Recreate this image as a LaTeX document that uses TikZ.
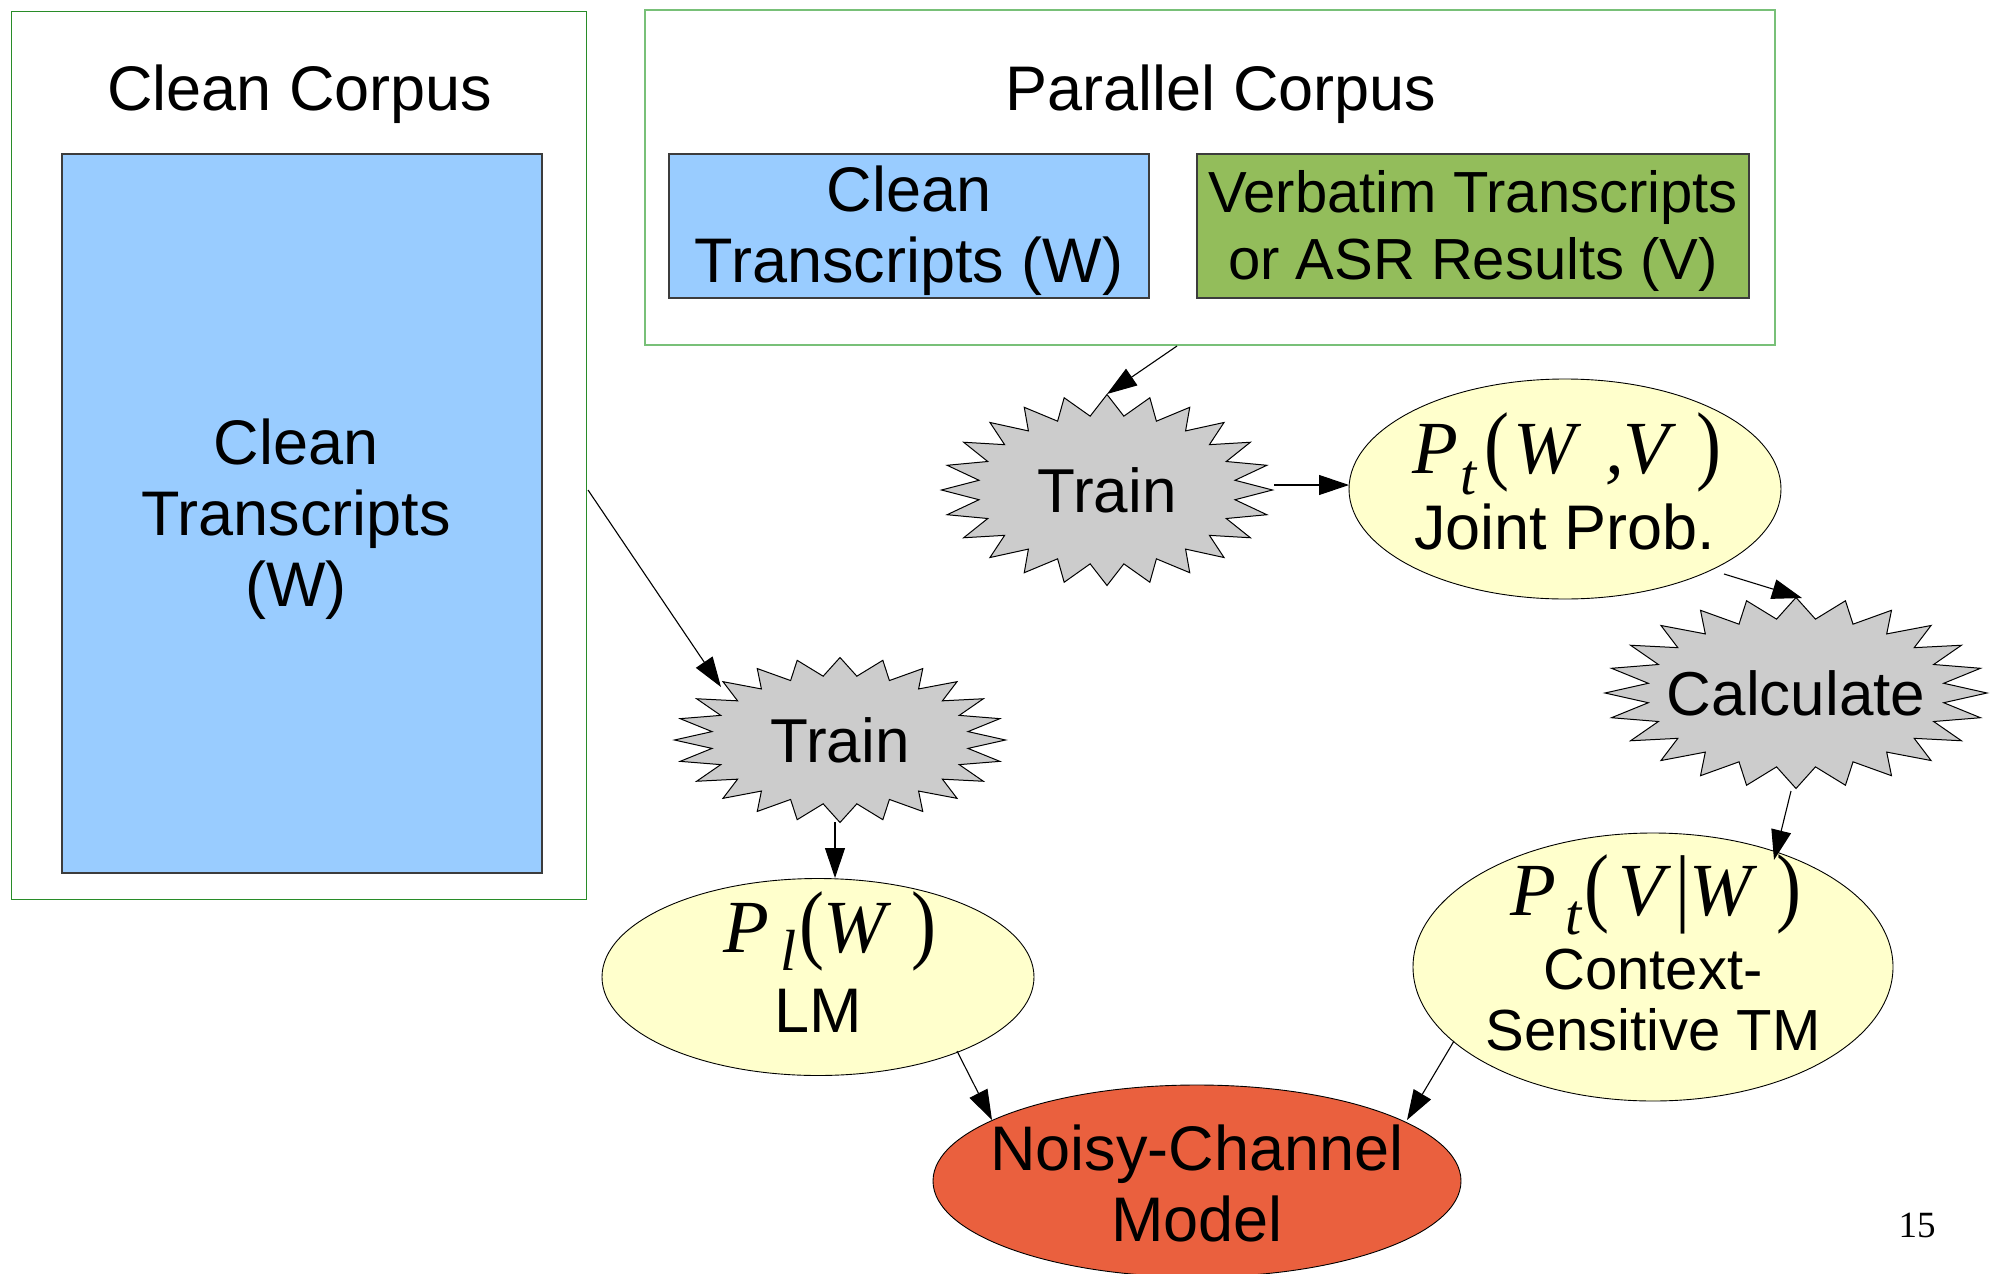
\documentclass[tikz,border=0pt]{standalone}
\usepackage{fontspec}
\setmainfont{Liberation Sans}
\newfontfamily\tmsfont{Liberation Serif}
\usetikzlibrary{shapes.geometric,arrows.meta}
\definecolor{boxblue}{RGB}{153,204,255}
\definecolor{boxgreen}{RGB}{147,189,91}
\definecolor{ellyellow}{RGB}{255,255,204}
\definecolor{noisyred}{RGB}{234,96,62}
\definecolor{stargray}{RGB}{204,204,204}
\definecolor{framegreen}{RGB}{120,192,120}
\definecolor{framedark}{RGB}{40,140,40}
\definecolor{edgegray}{RGB}{60,60,60}
% math-like glyphs in Times-style serif, placed at given offsets
\newcommand{\gl}[2]{\makebox[0pt][l]{\hspace*{#1pt}#2}}
\newcommand{\ti}[1]{{\tmsfont\itshape #1}}
\newcommand{\tp}[2][1.17]{{\tmsfont\scalebox{1}[#1]{#2}}}
\newcommand{\sub}[2]{\raisebox{-#1pt}{\fontsize{58}{58}\selectfont\ti{#2}}}
% starburst outline around a named (invisible) node
\newcommand{\burst}[3]{%
  \draw[starline] ([shift={(0:#2 and #3)}]#1.center)
    \foreach \k in {1,...,47}{ -- ([shift={(\k*7.5:{#2*(1-0.22*mod(\k,2))} and {#3*(1-0.22*mod(\k,2))})}]#1.center)} -- cycle;}
\begin{document}
\begin{tikzpicture}[x=1pt,y=-1pt,
  frame/.style={draw=framegreen,line width=2pt,fill=white,inner sep=0pt},
  databox/.style={draw=edgegray,line width=1.1pt,inner sep=0pt},
  anchorell/.style={ellipse,inner sep=0pt},
  starline/.style={fill=stargray,draw=black,line width=1pt,line join=miter},
  ellbox/.style={ellipse,draw=black,line width=0.9pt,inner sep=0pt},
  big/.style={font=\fontsize{63}{71}\selectfont,align=center,inner sep=0pt},
  mid/.style={font=\fontsize{58}{67}\selectfont,align=center,inner sep=0pt},
  mathlbl/.style={font=\fontsize{75}{75}\selectfont,inner sep=0pt,anchor=base west},
  arr/.style={line width=1.1pt,-{Triangle[length=30pt,width=20pt]}}
]
\useasboundingbox[fill=white] (0,0) rectangle (1995,1274);

% Clean corpus
\node[frame,draw=framedark,line width=1.3pt,minimum width=575pt,minimum height=888pt] (cc) at (299,455.5) {};
\node[big] (cctitle) at (300,94) {Clean Corpus};
\node[databox,fill=boxblue,minimum width=480pt,minimum height=719pt] (ccin) at (302,513.5) {};
\node[big] (ccintext) at (296,519) {Clean\\Transcripts\\(W)};

% Parallel corpus
\node[frame,minimum width=1130pt,minimum height=335pt] (pc) at (1210,177.5) {};
\node[big] (pctitle) at (1221,94) {Parallel Corpus};
\node[databox,fill=boxblue,minimum width=480pt,minimum height=144pt] (pcw) at (909,226) {};
\node[big] (pcwtext) at (909,231) {Clean\\Transcripts (W)};
\node[databox,fill=boxgreen,minimum width=552pt,minimum height=144pt] (pcv) at (1473,226) {};
\node[mid] (pcvtext) at (1473,231) {Verbatim Transcripts\\or ASR Results (V)};

% Stars
\node[anchorell,minimum width=331pt,minimum height=191pt] (train1) at (1107,490) {};
\burst{train1}{165.5}{95.5}
\node[font=\fontsize{62}{62}\selectfont,inner sep=0pt] (train1text) at (train1) {Train};
\node[anchorell,minimum width=331pt,minimum height=165pt] (train2) at (840,740) {};
\burst{train2}{165.5}{82.5}
\node[font=\fontsize{62}{62}\selectfont,inner sep=0pt] (train2text) at (train2) {Train};
\node[anchorell,minimum width=382pt,minimum height=191pt] (calc) at (1796,693) {};
\burst{calc}{191}{95.5}
\node[font=\fontsize{62}{62}\selectfont,inner sep=0pt] (calctext) at (calc) {Calculate};

% Ellipses
\node[ellbox,fill=ellyellow,minimum width=432pt,minimum height=220pt] (joint) at (1565,489) {};
\node[mathlbl] (jointm) at (1412,473) {\gl{0}{\ti{P}}\gl{48}{\sub{21}{t}}\gl{72}{\tp{(}}\gl{101}{\ti{W}}\gl{193}{\ti{,}}\gl{211}{\ti{V}}\gl{284}{\tp{)}}\hspace*{303pt}};
\node[big] (jointt) at (1565,527) {Joint Prob.};

\node[ellbox,fill=ellyellow,minimum width=432pt,minimum height=197pt] (lm) at (818,977) {};
\node[mathlbl] (lmm) at (723,952) {\gl{0}{\ti{P}}\gl{57}{\sub{18}{l}}\gl{76}{\tp{(}}\gl{100}{\ti{W}}\gl{188}{\tp{)}}\hspace*{207pt}};
\node[big] (lmt) at (818,1011) {LM};

\node[ellbox,fill=ellyellow,minimum width=480pt,minimum height=268pt] (ctx) at (1653,967) {};
\node[mathlbl] (ctxm) at (1510,915) {\gl{0}{\ti{P}}\gl{55}{\sub{19}{t}}\gl{74}{\tp{(}}\gl{108}{\ti{V}}\gl{165}{\tp[1.15]{|}}\gl{179}{\ti{W}}\gl{266}{\tp{)}}\hspace*{285pt}};
\node[font=\fontsize{58}{61}\selectfont,align=center,inner sep=0pt] (ctxt) at (1653,1000) {Context-\\Sensitive TM};

\node[ellbox,fill=noisyred,minimum width=528pt,minimum height=192pt] (noisy) at (1197,1181) {};
\node[big] (noisyt) at (1197,1183) {Noisy-Channel\\Model};

\node[font=\tmsfont\fontsize{37}{37}\selectfont,inner sep=0pt] (pagenum) at (1917,1225) {15};

% Connectors
\draw[arr] ([xshift=-33pt]pc.south) -- ([shift={(0,-96)}]train1.center);
\draw[arr] ([shift={(167,-5)}]train1.center) -- ([shift={(-216,-4)}]joint.center);
\draw[arr] ([shift={(159,85)}]joint.center) -- ([shift={(6,-95)}]calc.center);
\draw[arr] ([shift={(-5,98)}]calc.center) -- ([shift={(121,-107)}]ctx.center);
\draw[arr] ([shift={(289,34.5)}]cc.center) -- ([shift={(-119,-53)}]train2.center);
\draw[arr] ([shift={(-5,82)}]train2.center) -- ([shift={(17,-99)}]lm.center);
\draw[arr] ([shift={(139,74)}]lm.center) -- ([shift={(-205,-61)}]noisy.center);
\draw[arr] ([shift={(-199,74)}]ctx.center) -- ([shift={(210,-61)}]noisy.center);
\end{tikzpicture}
\end{document}
